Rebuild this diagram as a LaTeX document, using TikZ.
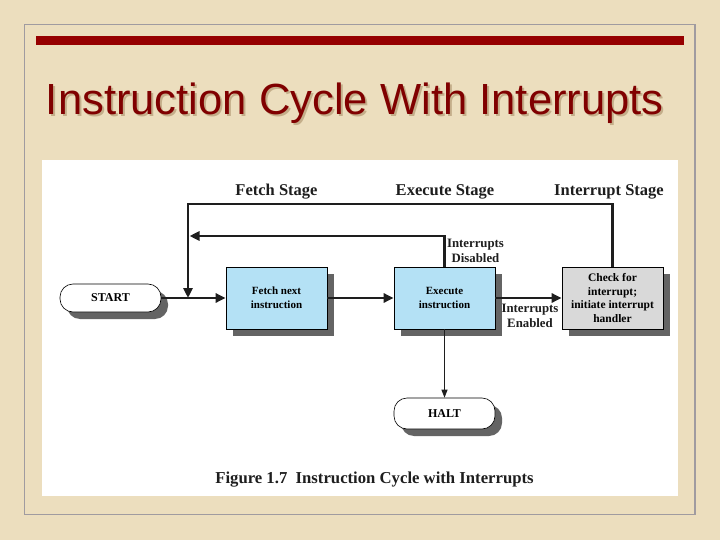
\documentclass[tikz,border=0pt]{standalone}
\usepackage{fontspec}
\setmainfont{Liberation Serif}
\newfontfamily\titlefont{Liberation Sans}
\usetikzlibrary{arrows.meta,shadows}
\definecolor{parch}{RGB}{236,222,190}
\definecolor{framegray}{RGB}{160,155,160}
\definecolor{barred}{RGB}{150,0,0}
\definecolor{titlered}{RGB}{128,0,0}
\definecolor{titleshadow}{RGB}{196,174,138}
\definecolor{boxblue}{RGB}{180,225,245}
\definecolor{boxgray}{RGB}{217,217,217}
\definecolor{shadowgray}{RGB}{100,100,100}
\definecolor{linecol}{RGB}{30,30,30}
\newcommand{\shadowedtitle}[1]{\rlap{\hspace{2pt}\raisebox{-2pt}{\textcolor{titleshadow}{#1}}}\textcolor{titlered}{#1}}
\begin{document}
\begin{tikzpicture}[x=1pt,y=-1pt,
  dshadow/.style={drop shadow={shadow xshift=7pt,shadow yshift=-7pt,fill=shadowgray,opacity=1}},
  procbox/.style={rectangle,draw=black,line width=0.6pt,minimum width=101pt,minimum height=62pt,
    align=center,inner sep=2pt,dshadow,font=\fontsize{11}{14}\selectfont\bfseries},
  termbox/.style={rectangle,rounded corners=13pt,draw=black,line width=0.6pt,fill=white,
    minimum width=101pt,minimum height=28pt,dshadow,font=\fontsize{12}{14}\selectfont\bfseries},
  conn/.style={line width=2.8pt,draw=linecol,-{Triangle[length=10pt,width=9pt]}},
  thinconn/.style={line width=0.9pt,draw=linecol,-{Triangle[length=8pt,width=6pt]}},
  stagelbl/.style={anchor=base,inner sep=0pt,font=\fontsize{16.5}{18}\selectfont\bfseries,text=linecol},
  condlbl/.style={align=center,inner sep=0pt,font=\fontsize{12.8}{14.8}\selectfont\bfseries,text=linecol}
]
\useasboundingbox (0,0) rectangle (720,540);
% slide background
\fill[parch] (0,0) rectangle (720,540);
\draw[framegray,line width=1.5pt] (24.5,24.5) rectangle (695,514.5);
\fill[barred] (36,36.5) rectangle (684,45);
\node[anchor=base west,inner sep=0pt,font=\titlefont\fontsize{43.6}{48}\selectfont]
  (title) at (45.7,115) {\shadowedtitle{Instruction Cycle With Interrupts}};
% white panel
\fill[white] (42,160) rectangle (678,496);

% stage labels
\node[stagelbl] (lfetch) at (276.5,196) {Fetch Stage};
\node[stagelbl] (lexec) at (445,196) {Execute Stage};
\node[stagelbl] (lint) at (609,196) {Interrupt Stage};

% nodes
\node[termbox] (start) at (110.5,298) {START};
\node[procbox,fill=boxblue] (fetch) at (276.5,298) {Fetch next\\instruction};
\node[procbox,fill=boxblue] (exec) at (444.5,298) {Execute\\instruction};
\node[procbox,fill=boxgray,font=\fontsize{11.5}{13.8}\selectfont\bfseries] (check) at (612.5,298)
  {Check for\\interrupt;\\initiate interrupt\\handler};
\node[termbox,minimum height=31pt] (halt) at (444.5,413.5) {HALT};

\coordinate (topleft) at (188,204);
\coordinate (join) at (188,298);
\coordinate (innerend) at (189.5,236);

% connectors
\draw[conn] (start) -- (fetch);
\draw[conn] (fetch) -- (exec);
\draw[conn] (exec) -- (check);
\draw[thinconn] (exec) -- (halt);
\draw[conn] (check.north) |- (topleft) -- (join);
\draw[conn] (exec.north) |- (innerend);

% condition labels
\node[condlbl] (ldis) at (475.5,251) {Interrupts\\Disabled};
\node[condlbl] (len) at (530,316) {Interrupts\\Enabled};

% caption
\node[anchor=base,inner sep=0pt,font=\fontsize{16.7}{18}\selectfont\bfseries,text=linecol]
  (caption) at (374.5,483.3) {Figure 1.7\ \ Instruction Cycle with Interrupts};
\end{tikzpicture}
\end{document}
